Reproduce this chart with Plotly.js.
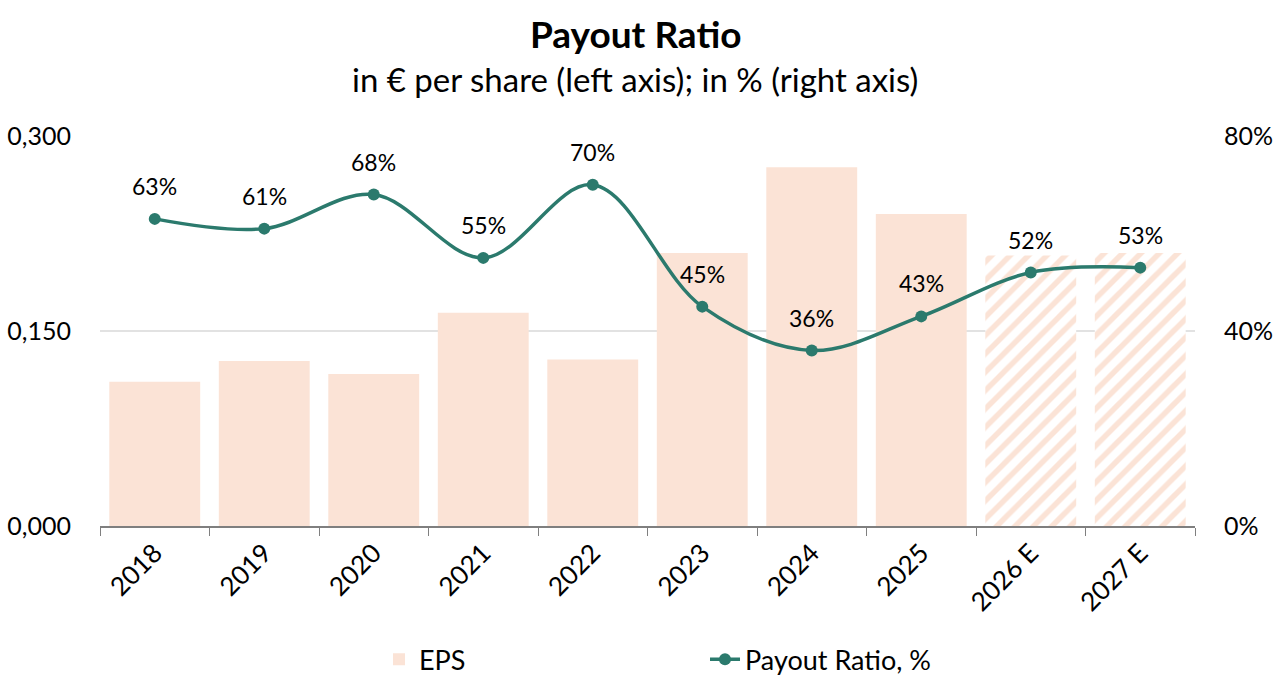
<!DOCTYPE html>
<html>
<head>
<meta charset="utf-8">
<script src="https://cdn.plot.ly/plotly-3.0.1.min.js"></script>
<style>
  html, body { margin: 0; padding: 0; background: #ffffff; }
  #chart { width: 1280px; height: 683px; }
</style>
</head>
<body>
<div id="chart"></div>
<script>
// Fiscal years (last two are estimates)
const years = ['2018', '2019', '2020', '2021', '2022', '2023', '2024', '2025', '2026 E', '2027 E'];
// Earnings per share, EUR
const eps = [0.111, 0.127, 0.117, 0.164, 0.128, 0.210, 0.276, 0.240, 0.208, 0.210];
// Payout ratio, share of EPS
const payout = [0.63, 0.61, 0.68, 0.55, 0.70, 0.45, 0.36, 0.43, 0.52, 0.53];
// Estimated years get a hatched fill
const isEstimate = [false, false, false, false, false, false, false, false, true, true];

const FONT = 'Lato, "Open Sans", "DejaVu Sans", sans-serif';
const BAR = '#FBE3D6';
const LINE = '#2B7A6D';

const barTrace = {
  type: 'bar',
  name: 'EPS',
  x: years,
  y: eps,
  marker: {
    color: BAR,
    line: { width: 0 },
    pattern: {
      shape: isEstimate.map(e => e ? '/' : ''),
      fgcolor: BAR,
      bgcolor: '#ffffff',
      size: 13,
      solidity: 0.42
    }
  },
  hoverinfo: 'x+y'
};

const lineTrace = {
  type: 'scatter',
  mode: 'lines+markers',
  name: 'Payout Ratio, %',
  x: years,
  y: payout,
  yaxis: 'y2',
  line: { color: LINE, width: 3.5, shape: 'spline', smoothing: 1 },
  marker: { color: LINE, size: 12 },
  hoverinfo: 'x+y'
};

// Percentage labels above each point of the line (x given as category index)
const labels = years.map((yr, i) => ({
  x: i,
  y: payout[i],
  xref: 'x',
  yref: 'y2',
  text: Math.round(payout[i] * 100) + '%',
  showarrow: false,
  yshift: 33,
  font: { family: FONT, size: 23, color: '#000000' }
}));

const layout = {
  width: 1280,
  height: 683,
  paper_bgcolor: '#ffffff',
  plot_bgcolor: '#ffffff',
  separators: ',.',
  margin: { l: 100, r: 85, t: 136, b: 157 },
  font: { family: FONT, size: 25, color: '#000000' },
  showlegend: true,
  bargap: 0.17,
  xaxis: {
    type: 'category',
    range: [-0.5, years.length - 0.5],
    autorange: false,
    automargin: false,
    tickangle: -45,
    tickson: 'boundaries',
    ticks: 'outside',
    ticklen: 8,
    tickcolor: '#7f7f7f',
    showline: true,
    linecolor: '#7f7f7f',
    linewidth: 1.5,
    showgrid: false,
    tickfont: { family: FONT, size: 26 },
    fixedrange: true
  },
  yaxis: {
    range: [0, 0.3],
    autorange: false,
    automargin: false,
    tickvals: [0, 0.15, 0.3],
    tickformat: '.3f',
    showgrid: true,
    gridcolor: '#e2e2e2',
    gridwidth: 1.5,
    zeroline: false,
    showline: false,
    ticks: '',
    ticklabelstandoff: 28,
    tickfont: { family: FONT, size: 25 },
    fixedrange: true
  },
  yaxis2: {
    overlaying: 'y',
    side: 'right',
    range: [0, 0.8],
    autorange: false,
    automargin: false,
    tickvals: [0, 0.4, 0.8],
    tickformat: '.0%',
    showgrid: false,
    zeroline: false,
    showline: false,
    ticks: '',
    ticklabelstandoff: 28,
    tickfont: { family: FONT, size: 25 },
    fixedrange: true
  },
  legend: {
    orientation: 'h',
    xref: 'paper',
    x: 0.2548,
    xanchor: 'left',
    yref: 'container',
    y: 0.034,
    yanchor: 'middle',
    entrywidth: 281,
    entrywidthmode: 'pixels',
    font: { family: FONT, size: 27 },
    bgcolor: 'rgba(0,0,0,0)'
  },
  annotations: [
    {
      text: '<b>Payout Ratio</b>',
      xref: 'paper', yref: 'paper',
      x: 0.4886, y: 1.264,
      xanchor: 'center', yanchor: 'middle',
      showarrow: false,
      font: { family: FONT, size: 37, color: '#000000' }
    },
    {
      text: 'in € per share (left axis); in % (right axis)',
      xref: 'paper', yref: 'paper',
      x: 0.4886, y: 1.146,
      xanchor: 'center', yanchor: 'middle',
      showarrow: false,
      font: { family: FONT, size: 33, color: '#000000' }
    }
  ].concat(labels)
};

Plotly.newPlot('chart', [barTrace, lineTrace], layout, { displayModeBar: false, staticPlot: true });
</script>
</body>
</html>
